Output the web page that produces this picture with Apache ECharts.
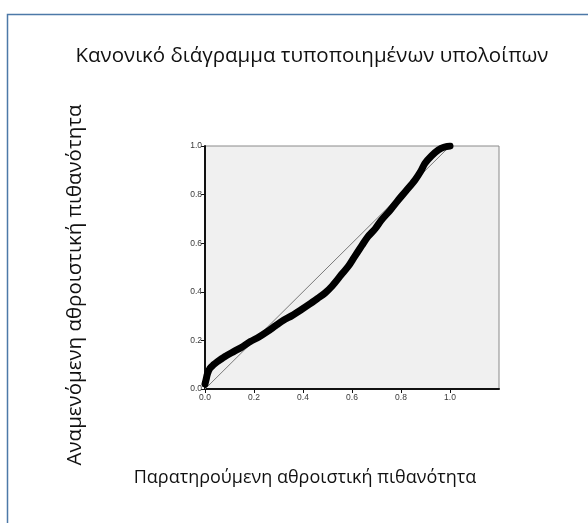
<!DOCTYPE html>
<html>
<head>
<meta charset="utf-8">
<script src="https://cdn.jsdelivr.net/npm/echarts@6/dist/echarts.min.js"></script>
<style>
  html, body { margin: 0; padding: 0; background: #ffffff; }
  #chart { width: 588px; height: 523px; }
</style>
</head>
<body>
<div id="chart"></div>
<script>
// Normal P-P plot of standardized residuals
const chartTitle = 'Κανονικό διάγραμμα τυποποιημένων υπολοίπων';
const xAxisTitle = 'Παρατηρούμενη αθροιστική πιθανότητα';
const yAxisTitle = 'Αναμενόμενη αθροιστική πιθανότητα';

// observed cumulative probability
const observedProb = [
  0.000, 0.004, 0.010, 0.020, 0.035, 0.050, 0.080, 0.117, 0.150, 0.185,
  0.220, 0.254, 0.290, 0.322, 0.355, 0.391, 0.425, 0.460, 0.490, 0.520,
  0.556, 0.585, 0.610, 0.640, 0.665, 0.695, 0.720, 0.755, 0.789, 0.820,
  0.857, 0.880, 0.898, 0.925, 0.953, 0.975, 1.000
];
// expected cumulative probability
const expectedProb = [
  0.020, 0.037, 0.062, 0.085, 0.100, 0.112, 0.133, 0.154, 0.172, 0.195,
  0.214, 0.236, 0.262, 0.284, 0.302, 0.325, 0.348, 0.373, 0.395, 0.425,
  0.470, 0.505, 0.544, 0.590, 0.627, 0.660, 0.695, 0.735, 0.778, 0.815,
  0.860, 0.895, 0.929, 0.960, 0.984, 0.995, 1.000
];

// reference diagonal
const diagonal = [[0, 0], [1, 1]];

const xTickValues = [0, 0.2, 0.4, 0.6, 0.8, 1.0];

const chart = echarts.init(document.getElementById('chart'), null, { renderer: 'canvas' });

const tickLabel = { fontSize: 8.5, color: '#3a3a3a', fontFamily: 'Liberation Sans, Arial, sans-serif' };
const textFont = 'Open Sans, Noto Sans, sans-serif';

chart.setOption({
  animation: false,
  backgroundColor: '#ffffff',
  grid: {
    left: 205, top: 146, width: 294, height: 243,
    show: true,
    backgroundColor: '#f0f0f0',
    borderColor: '#8a8a8a',
    borderWidth: 1
  },
  xAxis: {
    type: 'value',
    min: 0, max: 1.2,
    interval: 0.2,
    splitLine: { show: false },
    axisLine: { show: true, onZero: false, lineStyle: { color: '#111', width: 2 } },
    axisTick: { show: true, length: 4, customValues: xTickValues, lineStyle: { color: '#111', width: 1 } },
    axisLabel: Object.assign({ customValues: xTickValues, margin: 4,
      formatter: v => v.toFixed(1) }, tickLabel)
  },
  yAxis: {
    type: 'value',
    min: 0, max: 1,
    interval: 0.2,
    splitLine: { show: false },
    axisLine: { show: true, onZero: false, lineStyle: { color: '#111', width: 2 } },
    axisTick: { show: true, length: 4, lineStyle: { color: '#111', width: 1 } },
    axisLabel: Object.assign({ margin: 3, formatter: v => v.toFixed(1) }, tickLabel)
  },
  series: [
    {
      type: 'line',
      data: diagonal,
      symbol: 'none',
      silent: true,
      lineStyle: { color: '#7a7a7a', width: 1 },
      z: 2
    },
    {
      type: 'line',
      data: observedProb.map((x, i) => [x, expectedProb[i]]),
      symbol: 'none',
      smooth: 0.3,
      clip: true,
      lineStyle: { color: '#000000', width: 7, cap: 'round', join: 'round' },
      z: 3
    }
  ],
  graphic: [
    {
      type: 'rect',
      shape: { x: 7.5, y: 14.5, width: 600, height: 540 },
      style: { fill: 'none', stroke: '#4d79a8', lineWidth: 1.5 },
      silent: true,
      z: 0
    },
    {
      type: 'text',
      x: 312, y: 56,
      style: {
        text: chartTitle,
        fontSize: 20.5,
        fontFamily: textFont,
        fill: '#111',
        align: 'center',
        verticalAlign: 'middle'
      }
    },
    {
      type: 'text',
      x: 305, y: 478,
      style: {
        text: xAxisTitle,
        fontSize: 18,
        fontFamily: textFont,
        fill: '#111',
        align: 'center',
        verticalAlign: 'middle'
      }
    },
    {
      type: 'text',
      x: 75, y: 285,
      rotation: Math.PI / 2,
      style: {
        text: yAxisTitle,
        fontSize: 20.5,
        fontFamily: textFont,
        fill: '#111',
        align: 'center',
        verticalAlign: 'middle'
      }
    }
  ]
});
</script>
</body>
</html>
